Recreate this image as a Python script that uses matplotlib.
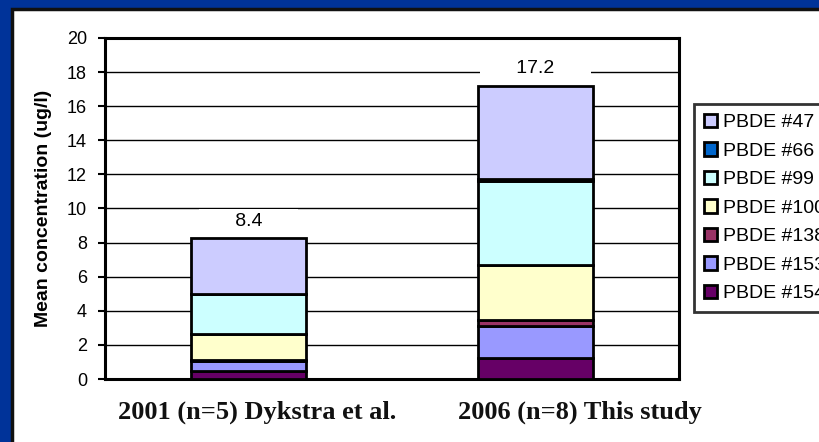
import matplotlib.pyplot as plt
from matplotlib.patches import Rectangle, Patch

# data
groups = ['2001 (n=5) Dykstra et al.', '2006 (n=8) This study']
congeners = ['PBDE #47', 'PBDE #66', 'PBDE #99', 'PBDE #100',
             'PBDE #138', 'PBDE #153', 'PBDE #154']
pbde47 = [3.25, 5.45]
pbde66 = [0.0, 0.10]
pbde99 = [2.35, 4.95]
pbde100 = [1.55, 3.23]
pbde138 = [0.05, 0.35]
pbde153 = [0.60, 1.86]
pbde154 = [0.45, 1.25]
totals = ['8.4', '17.2']
colors = ['#CCCCFF', '#0066CC', '#CCFFFF', '#FFFFCC', '#993366', '#9999FF', '#660066']

series = [pbde47, pbde66, pbde99, pbde100, pbde138, pbde153, pbde154]

fig = plt.figure(figsize=(8.2, 4.42), dpi=100)
fig.patch.set_facecolor('#003399')
# white slide panel with a dark edge (runs off the right and bottom)
fig.patches.append(Rectangle((12 / 820, -0.1), 1, 1.1 - 9 / 442, transform=fig.transFigure,
                             facecolor='white', edgecolor='#111111', lw=2.5, zorder=-5))

ax = fig.add_axes([105 / 820, 1 - 379 / 442, 574 / 820, 341 / 442])
ax.set_zorder(2)
x = [0, 1]
# stack from the bottom: #154 first, #47 on top
bottom = [0.0, 0.0]
for vals, lab, col in reversed(list(zip(series, congeners, colors))):
    ax.bar(x, vals, 0.4, bottom=bottom, color=col, edgecolor='black', lw=2, zorder=3, label=lab)
    bottom = [b + v for b, v in zip(bottom, vals)]

for i, t in enumerate(totals):
    ax.text(x[i], bottom[i] + 1.0, '      ' + t + '      ', ha='center', va='center',
            fontsize=14, family='Liberation Sans', zorder=4,
            bbox=dict(facecolor='white', edgecolor='none', pad=3))

ax.set_xlim(-0.5, 1.5)
ax.set_ylim(0, 20)
ax.set_yticks(range(0, 21, 2))
ax.yaxis.grid(True, color='black', lw=1)
ax.set_axisbelow(True)
for s in ax.spines.values():
    s.set_linewidth(2.2)
ax.tick_params(axis='y', length=5, width=1.5, labelsize=13, pad=8)
for t in ax.get_yticklabels():
    t.set_family('Liberation Sans')
ax.set_xticks([])
ax.set_ylabel('Mean concentration (ug/l)', fontsize=14, fontweight='bold',
              family='Liberation Sans', labelpad=11)

# the group captions are separate text boxes on the slide, not centred under the bars
for gx, g in zip([257 / 820, 580 / 820], groups):
    fig.text(gx, 1 - 412 / 442, g, ha='center', va='center', family='Liberation Serif',
             fontweight='bold', fontsize=19, color='#111111')

handles = [Patch(facecolor=c, edgecolor='black', lw=2) for c in colors]
leg = fig.legend(handles, congeners, loc='upper left', bbox_to_anchor=(694 / 820, 1 - 104 / 442),
                 prop={'family': 'Liberation Sans', 'size': 14}, frameon=True, fancybox=False,
                 handlelength=0.7, handleheight=0.7, handletextpad=0.3, labelspacing=0.56,
                 borderpad=0.5, borderaxespad=0)
leg.get_frame().set_edgecolor('black')
leg.get_frame().set_linewidth(2)
leg.set_zorder(3)

fig.savefig('out.png', facecolor=fig.get_facecolor())
